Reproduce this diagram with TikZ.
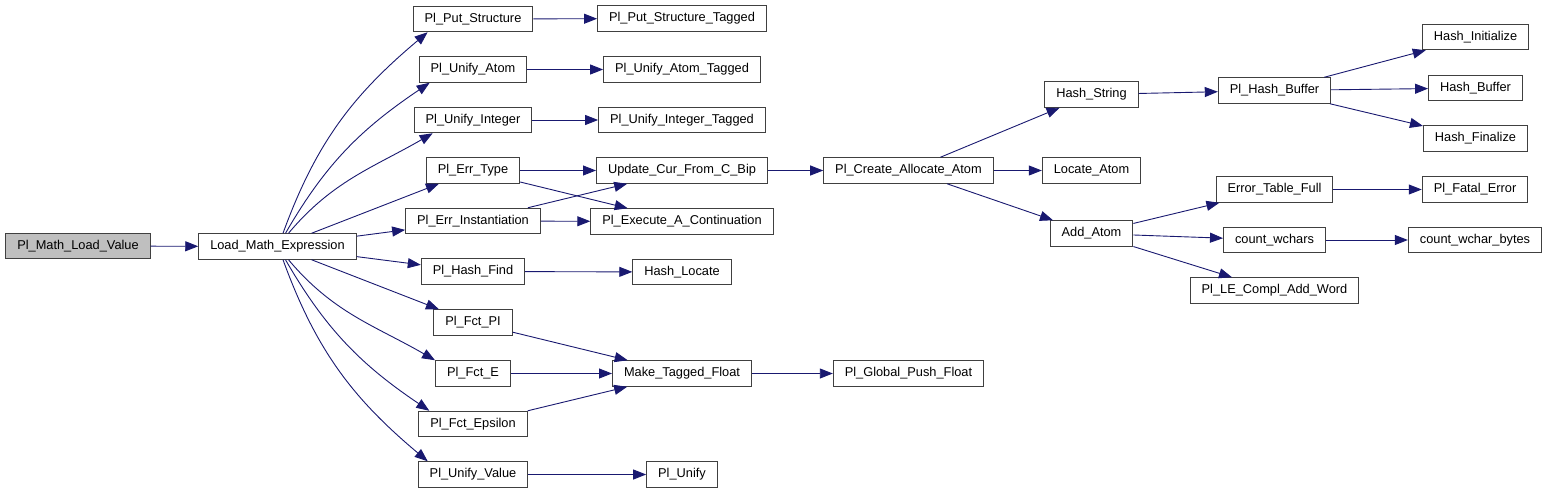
\documentclass[tikz,border=0pt]{standalone}
\usepackage{fontspec}
\setmainfont{Liberation Sans}
\usepackage{xcolor}
\usepackage{tikz}
\usetikzlibrary{arrows.meta,positioning}
\definecolor{EdgeBlue}{HTML}{191970}
\definecolor{BoxLine}{HTML}{404040}
\definecolor{RootGray}{HTML}{BFBFBF}

\begin{document}
\begin{tikzpicture}[x=1pt,y=1pt,
  fn/.style={draw=BoxLine,line width=1pt,fill=white,minimum height=25.5pt,
             inner xsep=11.5pt,inner ysep=0pt,font=\fontsize{12.8}{15}\selectfont},
  root/.style={fn,fill=RootGray},
  call/.style={draw=EdgeBlue,line width=0.9pt,-{Triangle[length=13pt,width=10pt]}}]
\useasboundingbox (0,0) rectangle (1548,-493);
\node[root] (mlv) at (78,-246) {Pl\_Math\_Load\_Value};
\node[fn] (lme) at (277.5,-246.5) {Load\_Math\_Expression};

\node[fn] (ps)   at (473,-19)    {Pl\_Put\_Structure};
\node[fn] (ua)   at (473,-69.5)  {Pl\_Unify\_Atom};
\node[fn] (ui)   at (473,-120)   {Pl\_Unify\_Integer};
\node[fn] (et)   at (473,-170.5) {Pl\_Err\_Type};
\node[fn] (ei)   at (473,-221)   {Pl\_Err\_Instantiation};
\node[fn] (hf)   at (473,-271.5) {Pl\_Hash\_Find};
\node[fn] (fpi)  at (473,-322.5) {Pl\_Fct\_PI};
\node[fn] (fe)   at (473,-373.5) {Pl\_Fct\_E};
\node[fn] (feps) at (473,-424)   {Pl\_Fct\_Epsilon};
\node[fn] (uv)   at (473,-474.5) {Pl\_Unify\_Value};

\node[fn] (pst) at (682,-18.5)  {Pl\_Put\_Structure\_Tagged};
\node[fn] (uat) at (682,-69.5)  {Pl\_Unify\_Atom\_Tagged};
\node[fn] (uit) at (682,-120)   {Pl\_Unify\_Integer\_Tagged};
\node[fn] (ucb) at (682,-170.5) {Update\_Cur\_From\_C\_Bip};
\node[fn] (eac) at (682,-221.5) {Pl\_Execute\_A\_Continuation};
\node[fn] (hl)  at (682,-272)   {Hash\_Locate};
\node[fn] (mtf) at (682,-373.5) {Make\_Tagged\_Float};
\node[fn] (un)  at (682,-474.5) {Pl\_Unify};

\node[fn] (caa) at (908.5,-170.5) {Pl\_Create\_Allocate\_Atom};
\node[fn] (gpf) at (908.5,-373.5) {Pl\_Global\_Push\_Float};

\node[fn] (hs) at (1091.5,-94.5)  {Hash\_String};
\node[fn] (la) at (1091.5,-170.5) {Locate\_Atom};
\node[fn] (aa) at (1091.5,-233.5) {Add\_Atom};

\node[fn] (hb)  at (1274.5,-90.5)  {Pl\_Hash\_Buffer};
\node[fn] (etf) at (1274.5,-189.5) {Error\_Table\_Full};
\node[fn] (cw)  at (1274.5,-240)   {count\_wchars};
\node[fn] (le)  at (1274.5,-290.5) {Pl\_LE\_Compl\_Add\_Word};

\node[fn] (hi)  at (1475.5,-37)   {Hash\_Initialize};
\node[fn] (hbu) at (1475.5,-88)   {Hash\_Buffer};
\node[fn] (hfz) at (1475.5,-138.5) {Hash\_Finalize};
\node[fn] (fat) at (1475,-189.5)  {Pl\_Fatal\_Error};
\node[fn] (cwb) at (1475,-240)    {count\_wchar\_bytes};

\draw[call] (mlv) -- (lme);
\draw[call] ([xshift=5.5pt]lme.north) to[out=70,in=220] ([xshift=15pt]ps.south west);
\draw[call] ([xshift=8pt]lme.north) to[out=60,in=214] ([xshift=11pt]ua.south west);
\draw[call] ([xshift=11pt]lme.north) to[out=50,in=210] ([xshift=19pt]ui.south west);
\draw[call] (lme) -- (et);
\draw[call] (lme) -- (ei);
\draw[call] (lme) -- (hf);
\draw[call] (lme) -- (fpi);
\draw[call] ([xshift=11pt]lme.south) to[out=-50,in=150] (fe.north west);
\draw[call] ([xshift=8pt]lme.south) to[out=-60,in=146] ([xshift=11pt]feps.north west);
\draw[call] ([xshift=5.5pt]lme.south) to[out=-70,in=140] ([xshift=10pt]uv.north west);

\draw[call] (ps) -- (pst);
\draw[call] (ua) -- (uat);
\draw[call] (ui) -- (uit);
\draw[call] (et) -- (ucb);
\draw[call] (et) -- (eac);
\draw[call] (ei) -- (ucb);
\draw[call] (ei) -- (eac);
\draw[call] (hf) -- (hl);
\draw[call] (fpi) -- (mtf);
\draw[call] (fe) -- (mtf);
\draw[call] (feps) -- (mtf);
\draw[call] (uv) -- (un);

\draw[call] (ucb) -- (caa);
\draw[call] (mtf) -- (gpf);
\draw[call] (caa) -- (hs);
\draw[call] (caa) -- (la);
\draw[call] (caa) -- (aa);
\draw[call] (hs) -- (hb);
\draw[call] (hb) -- (hi);
\draw[call] (hb) -- (hbu);
\draw[call] (hb) -- (hfz);
\draw[call] (aa) -- (etf);
\draw[call] (aa) -- (cw);
\draw[call] (aa) -- (le);
\draw[call] (etf) -- (fat);
\draw[call] (cw) -- (cwb);
\end{tikzpicture}
\end{document}
